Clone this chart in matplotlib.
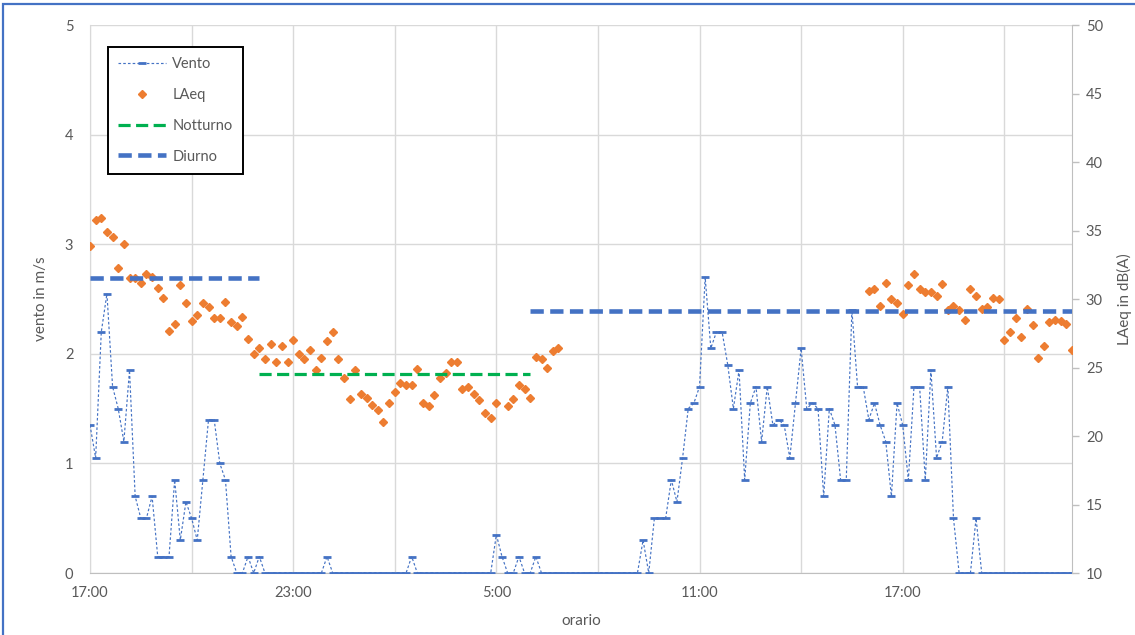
import numpy as np
import matplotlib
matplotlib.use("Agg")
import matplotlib.pyplot as plt
from matplotlib.patches import Rectangle

plt.rcParams['font.family'] = ['Lato', 'DejaVu Sans']

# campioni ogni 10 minuti a partire dalle 17:00
ORA_INIZIO = "17:00"
PASSO_MIN = 10

# velocita' del vento in m/s
vento = [1.35, 1.05, 2.2, 2.55, 1.7, 1.5, 1.2, 1.85, 0.7, 0.5,
         0.5, 0.7, 0.15, 0.15, 0.15, 0.85, 0.3, 0.65, 0.5, 0.3,
         0.85, 1.4, 1.4, 1.0, 0.85, 0.15, 0, 0, 0.15, 0,
         0.15, 0, 0, 0, 0, 0, 0, 0, 0, 0,
         0, 0, 0.15, 0, 0, 0, 0, 0, 0, 0,
         0, 0, 0, 0, 0, 0, 0, 0.15, 0, 0,
         0, 0, 0, 0, 0, 0, 0, 0, 0, 0,
         0, 0, 0.35, 0.15, 0, 0, 0.15, 0, 0, 0.15,
         0, 0, 0, 0, 0, 0, 0, 0, 0, 0,
         0, 0, 0, 0, 0, 0, 0, 0, 0.3, 0,
         0.5, 0.5, 0.5, 0.85, 0.65, 1.05, 1.5, 1.55, 1.7, 2.7,
         2.05, 2.2, 2.2, 1.9, 1.5, 1.85, 0.85, 1.55, 1.7, 1.2,
         1.7, 1.35, 1.4, 1.35, 1.05, 1.55, 2.05, 1.5, 1.55, 1.5,
         0.7, 1.5, 1.35, 0.85, 0.85, 2.4, 1.7, 1.7, 1.4, 1.55,
         1.35, 1.2, 0.7, 1.55, 1.35, 0.85, 1.7, 1.7, 0.85, 1.85,
         1.05, 1.2, 1.7, 0.5, 0, 0, 0, 0.5, 0, 0,
         0, 0, 0, 0, 0, 0, 0, 0, 0, 0,
         0, 0, 0, 0, 0]

# LAeq in dB(A): due tratti di misura
laeq_inizi = ["17:00", "16:00"]
laeq_sera = [33.9, 35.8, 35.9, 34.9, 34.5, 32.3, 34.0, 31.5, 31.5, 31.2,
             31.8, 31.6, 30.8, 30.1, 27.7, 28.2, 31.0, 29.7, 28.4, 28.8,
             29.7, 29.4, 28.6, 28.6, 29.8, 28.3, 28.0, 28.7, 27.1, 26.0,
             26.4, 25.6, 26.7, 25.4, 26.6, 25.4, 27.0, 26.0, 25.6, 26.3,
             24.8, 25.7, 26.9, 27.6, 25.6, 24.2, 22.7, 24.8, 23.1, 22.8,
             22.3, 21.9, 21.0, 22.4, 23.2, 23.9, 23.7, 23.7, 24.9, 22.4,
             22.2, 23.0, 24.2, 24.6, 25.4, 25.4, 23.4, 23.6, 23.1, 22.6,
             21.7, 21.3, 22.4, np.nan, 22.2, 22.7, 23.7, 23.4, 22.8, 25.8,
             25.6, 25.0, 26.2, 26.4]
laeq_giorno = [30.6, 30.7, 29.5, 31.2, 30.0, 29.7, 28.9, 31.0, 31.8, 30.7,
               30.5, 30.5, 30.2, 31.1, 29.2, 29.5, 29.2, 28.5, 30.7, 30.2,
               29.3, 29.4, 30.1, 30.0, 27.0, 27.6, 28.6, 27.2, 29.3, 28.1,
               25.7, 26.6, 28.3, 28.5, 28.4, 28.2, 26.3]

# limiti per periodo di riferimento
limiti_nomi = ["Diurno", "Notturno", "Diurno"]
limiti_valori = [31.5, 24.5, 29.1]
limiti_confini = ["17:00", "22:00", "6:00", "22:00"]


def minuti(orario):
    h, m = orario.split(":")
    return int(h) * 60 + int(m)


def indici(orari):
    """orari in sequenza (anche oltre la mezzanotte) -> indice del campione"""
    t0 = minuti(ORA_INIZIO)
    out = []
    giorno = 0
    prec = t0
    for o in orari:
        t = minuti(o) + giorno * 1440
        if t < prec:
            giorno += 1
            t += 1440
        out.append((t - t0) // PASSO_MIN)
        prec = t
    return out


n = len(vento)
x = np.arange(n)

laeq = np.full(n, np.nan)
for i0, tratto in zip(indici(laeq_inizi), [laeq_sera, laeq_giorno]):
    laeq[i0:i0 + len(tratto)] = tratto

BLU = '#4472C4'
ARANCIO = '#ED7D31'
VERDE = '#00B050'
GRIGIO_TESTO = '#595959'
GRIGIO_GRIGLIA = '#d9d9d9'

fig = plt.figure(figsize=(11.35, 6.35), dpi=100)
ax = fig.add_axes([0.0793, 0.0976, 0.8652, 0.8630])
ax2 = ax.twinx()

# vento sull'asse principale
l_vento, = ax.plot(x, vento, color=BLU, lw=0.85, ls=(0, (2.2, 1.8)),
                   marker='_', ms=6, mew=2.0, zorder=3, label='Vento')

# LAeq e limiti sull'asse secondario
l_laeq, = ax2.plot(x, laeq, ls='none', marker='D', ms=4.1, color=ARANCIO,
                   mec=ARANCIO, zorder=3, label='LAeq')

confini = indici(limiti_confini)
maniglie = {}
for k, (nome, val) in enumerate(zip(limiti_nomi, limiti_valori)):
    a, b = confini[k], confini[k + 1]
    if nome == 'Notturno':
        ln, = ax2.plot([a, b], [val, val], color=VERDE, lw=2.3,
                       dashes=(3.8, 1.7), zorder=4, label=nome)
    else:
        ln, = ax2.plot([a, b], [val, val], color=BLU, lw=3.3,
                       dashes=(2.9, 1.4), zorder=4, label=nome)
    maniglie[nome] = ln

ax.set_xlim(0, n - 1)
ax.set_ylim(0, 5)
ax2.set_ylim(10, 50)

# griglia: orizzontale ogni 1 m/s, verticale ogni 3 ore
ax.set_yticks(np.arange(0, 6, 1))
passo_griglia = 180 // PASSO_MIN
ax.set_xticks(np.arange(0, n, passo_griglia))
etichette = []
for i in range(0, n, passo_griglia):
    if i % (2 * passo_griglia) == 0:
        t = (minuti(ORA_INIZIO) + i * PASSO_MIN) % 1440
        etichette.append(f"{t // 60}:{t % 60:02d}")
    else:
        etichette.append("")
ax.set_xticklabels(etichette)
ax.grid(True, color=GRIGIO_GRIGLIA, lw=1)
ax.set_axisbelow(True)

ax.tick_params(axis='y', length=0, pad=12, labelsize=10.5, labelcolor=GRIGIO_TESTO)
ax.tick_params(axis='x', length=0, pad=9, labelsize=10.5, labelcolor=GRIGIO_TESTO)
ax2.set_yticks(np.arange(10, 51, 5))
ax2.tick_params(axis='y', length=5, width=1, color='#bfbfbf', pad=5,
                labelsize=10.5, labelcolor=GRIGIO_TESTO)

for s in ['top']:
    ax.spines[s].set_visible(False)
    ax2.spines[s].set_visible(False)
ax.spines['left'].set_color(GRIGIO_GRIGLIA)
ax.spines['right'].set_visible(False)
ax.spines['bottom'].set_color('#bfbfbf')
ax2.spines['left'].set_visible(False)
ax2.spines['bottom'].set_visible(False)
ax2.spines['right'].set_color('#bfbfbf')

ax.set_ylabel('vento in m/s', fontsize=11, color=GRIGIO_TESTO)
ax.yaxis.set_label_coords(-0.0428, 0.5)
ax2.set_ylabel('LAeq in dB(A)', fontsize=11, color=GRIGIO_TESTO)
ax2.yaxis.set_label_coords(1.0458, 0.5)
ax.set_xlabel('orario', fontsize=11, color=GRIGIO_TESTO)
ax.xaxis.set_label_coords(0.5, -0.075)

leg = ax2.legend(handles=[l_vento, l_laeq, maniglie['Notturno'], maniglie['Diurno']],
                 loc='upper left', bbox_to_anchor=(0.0183, 0.9599), borderaxespad=0,
                 fontsize=10.5, handlelength=3.3, handletextpad=0.4, labelspacing=1.15,
                 borderpad=0.7, numpoints=1, fancybox=False, framealpha=1)
leg.get_frame().set_edgecolor('black')
leg.get_frame().set_linewidth(1.4)
for t in leg.get_texts():
    t.set_color(GRIGIO_TESTO)

# cornice del grafico
fig.add_artist(Rectangle((3 / 1135, -0.1), 1.2, 1 - 4 / 635 + 0.1,
                         transform=fig.transFigure, fill=False, ec=BLU, lw=1.6))

fig.savefig('out.png', dpi=100)
